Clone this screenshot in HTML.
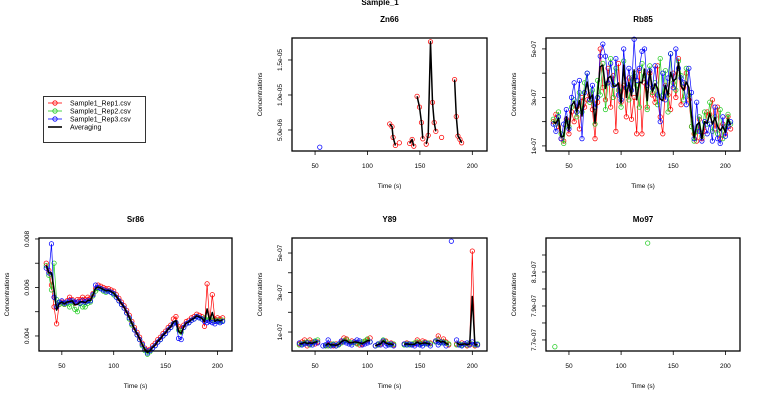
<!DOCTYPE html>
<html><head><meta charset="utf-8"><style>
html,body{margin:0;padding:0;background:#fff;}
svg{display:block;font-family:"Liberation Sans",sans-serif;}
</style></head><body>
<svg id="chart" width="760" height="400" viewBox="0 0 760 400" xmlns="http://www.w3.org/2000/svg">
<text x="380" y="5" font-size="8" font-weight="bold" text-anchor="middle">Sample_1</text>
<g>
<rect x="43.5" y="96.5" width="102" height="46" fill="#fff" stroke="#000" stroke-width="0.8"/>
<g><line x1="48" y1="103" x2="62" y2="103" stroke="#f00" stroke-width="0.8"/><circle cx="55" cy="103" r="2.2" fill="none" stroke="#f00" stroke-width="0.8"/><text x="70" y="105.5" font-size="7">Sample1_Rep1.csv</text></g>
<g><line x1="48" y1="111" x2="62" y2="111" stroke="#2c2" stroke-width="0.8"/><circle cx="55" cy="111" r="2.2" fill="none" stroke="#2c2" stroke-width="0.8"/><text x="70" y="113.5" font-size="7">Sample1_Rep2.csv</text></g>
<g><line x1="48" y1="119" x2="62" y2="119" stroke="#00f" stroke-width="0.8"/><circle cx="55" cy="119" r="2.2" fill="none" stroke="#00f" stroke-width="0.8"/><text x="70" y="121.5" font-size="7">Sample1_Rep3.csv</text></g>
<g><line x1="48" y1="127" x2="62" y2="127" stroke="#000" stroke-width="1.6"/><text x="70" y="129.5" font-size="7">Averaging</text></g>
</g>
</svg>
<script>
// ---- data ----
const xTicks = [50, 100, 150, 200];
const gridTimes = [35,37.5,40,42.5,45,47.5,50,52.5,55,57.5,60,62.5,65,67.5,70,72.5,75,77.5,80,82.5,85,87.5,90,92.5,95,97.5,100,102.5,105,107.5,110,112.5,115,117.5,120,122.5,125,127.5,130,132.5,135,137.5,140,142.5,145,147.5,150,152.5,155,157.5,160,162.5,165,167.5,170,172.5,175,177.5,180,182.5,185,187.5,190,192.5,195,197.5,200,202.5,205];

const znTimes = [54.5,90,121.2,123.4,124.4,126.6,128.5,130.4,135,140.3,142.6,144.2,145.8,147.3,149.6,151.5,152.8,154.4,156.0,157.9,160.1,162.0,163.6,165.2,168,170.7,176,183.1,184.7,186.3,188.2,189.8];
const znRed = [null,null,5.87,5.48,3.94,2.79,null,3.17,null,3.08,3.65,2.69,null,9.81,8.27,6.06,3.75,null,2.98,4.23,17.6,8.94,6.06,4.81,null,3.94,null,12.2,6.92,4.13,3.65,3.17];
const znGreen = [];
const znBlue = [2.55];
const znTickVals = [5,10,15];
const znTickLabels = ['5.0e-06','1.0e-05','1.5e-05'];

const rbRed = [2.0,2.3,1.8,1.3,1.2,2.1,1.5,2.4,2.0,2.6,1.7,3.0,2.6,2.9,3.1,2.5,1.3,2.8,5.0,3.4,2.9,4.2,2.6,3.9,1.6,4.4,2.8,3.5,2.2,3.8,2.1,3.0,1.5,4.1,1.5,3.6,2.6,4.0,3.1,2.8,4.3,2.2,1.5,3.5,3.1,2.5,4.0,3.0,4.6,2.7,3.4,4.0,2.9,1.8,1.5,1.2,2.1,1.3,1.6,2.4,2.3,2.9,1.7,2.6,1.3,1.9,1.5,2.2,1.7];
const rbGreen = [2.1,1.9,2.4,1.5,1.1,2.0,1.8,2.6,2.9,2.2,3.2,2.4,3.6,4.0,2.8,3.3,1.9,3.7,3.1,4.4,2.5,3.6,4.6,3.0,4.2,3.3,2.6,4.5,3.4,2.9,3.8,4.0,3.5,2.6,4.4,3.9,2.5,4.3,3.2,3.6,2.7,4.6,3.1,4.1,2.4,4.8,3.6,3.3,4.5,3.9,2.9,4.2,3.1,1.8,1.2,1.6,2.2,1.4,2.4,1.9,2.8,1.6,2.2,1.5,2.5,1.3,1.8,2.3,1.9];
const rbBlue = [1.9,1.6,2.2,1.3,1.9,2.5,1.7,3.0,3.6,2.4,3.7,1.3,3.2,4.0,2.9,3.5,2.6,3.0,4.7,5.2,4.7,3.6,4.4,3.5,4.6,3.1,2.9,5.0,3.4,4.2,3.3,5.4,3.7,4.2,4.9,5.0,3.5,4.1,3.4,4.3,3.1,2.0,4.0,2.9,3.8,4.8,3.4,5.0,4.2,3.8,3.6,2.7,4.2,3.2,1.3,2.8,1.6,1.2,2.0,1.5,1.9,1.2,2.6,1.3,1.1,2.2,1.4,1.8,2.0];
const rbTickVals = [1,2,3,4,5];
const rbTickLabels = ['1e-07','','3e-07','','5e-07'];

const srRed = [7.0,6.7,6.1,5.2,4.5,5.3,5.4,5.3,5.45,5.6,5.5,5.35,5.5,5.5,5.6,5.5,5.6,5.55,5.75,5.95,6.1,6.05,6.0,5.95,5.95,5.9,5.85,5.7,5.55,5.4,5.25,5.05,4.85,4.6,4.35,4.15,3.95,3.7,3.5,3.4,3.45,3.6,3.7,3.85,3.95,4.1,4.2,4.35,4.45,4.7,4.8,4.4,4.3,4.45,4.6,4.65,4.75,4.8,4.9,4.85,4.8,4.4,6.15,4.6,5.7,4.7,4.75,4.7,4.75];
const srGreen = [6.9,6.5,5.9,7.0,5.5,5.3,5.35,5.3,5.35,5.2,5.4,5.1,5.0,5.35,5.2,5.2,5.35,5.4,5.65,5.85,5.95,5.95,5.85,5.8,5.85,5.8,5.7,5.6,5.45,5.3,5.15,4.95,4.7,4.45,4.25,4.05,3.85,3.6,3.4,3.25,3.35,3.5,3.6,3.75,3.85,4.0,4.1,4.25,4.35,4.5,4.55,4.25,4.15,4.35,4.5,4.55,4.65,4.7,4.8,4.75,4.7,4.75,4.65,4.7,4.65,4.6,4.65,4.6,4.65];
const srBlue = [6.8,6.6,7.8,5.6,5.2,5.4,5.45,5.35,5.4,5.45,5.45,5.4,5.4,5.35,5.45,5.4,5.45,5.45,5.7,6.1,6.0,5.95,5.9,5.85,5.85,5.8,5.75,5.6,5.45,5.3,5.15,4.95,4.75,4.5,4.25,4.05,3.85,3.65,3.45,3.3,3.4,3.5,3.6,3.75,3.85,4.0,4.1,4.25,4.35,4.5,4.55,3.9,3.85,4.35,4.5,4.55,4.65,4.7,4.8,4.75,4.7,4.6,4.55,4.6,4.55,4.5,4.6,4.55,4.6];
const srTickVals = [4,5,6,7,8];
const srTickLabels = ['0.004','','0.006','','0.008'];

const yRed = [0.4,0.5,0.6,0.3,0.6,0.5,0.4,0.5,null,null,0.3,0.35,0.4,0.3,0.4,0.35,0.5,0.7,0.65,0.5,0.55,0.5,0.45,0.35,0.4,0.5,0.6,0.7,null,0.3,0.35,0.4,0.5,0.55,0.4,0.45,0.35,null,null,null,0.4,0.45,0.4,0.35,0.4,0.6,0.45,0.55,0.5,0.4,0.45,null,0.55,0.8,0.5,0.65,0.5,0.35,null,null,0.4,0.35,0.45,0.4,0.3,0.4,5.1,0.3,0.35];
const yGreen = [0.35,0.4,0.45,0.5,0.35,0.45,0.55,0.6,null,null,0.3,0.3,0.35,0.4,0.3,0.35,0.45,0.55,0.6,0.5,0.45,0.5,0.4,0.45,0.5,0.55,0.65,0.5,null,0.3,0.35,0.45,0.6,0.5,0.4,0.35,0.4,null,null,null,0.35,0.4,0.35,0.4,0.45,0.5,0.4,0.45,0.4,0.45,0.4,null,0.5,0.6,0.45,0.5,0.45,0.4,null,null,0.35,0.4,0.35,0.4,0.35,0.45,null,0.35,0.4];
const yBlue = [0.45,0.35,0.4,0.45,0.4,0.35,0.5,0.45,null,0.3,0.35,0.6,0.3,0.35,0.3,0.4,0.55,0.5,0.45,0.4,0.35,0.5,0.6,0.55,0.35,0.4,0.45,0.5,null,0.3,0.4,0.35,0.55,0.3,0.35,0.4,0.3,null,null,null,0.4,0.35,0.4,0.35,0.3,0.4,0.35,0.3,0.45,0.4,0.3,null,0.55,0.35,0.5,0.45,0.3,null,5.6,null,0.6,0.35,0.3,0.4,0.45,0.35,0.5,0.4,0.35];
const yTickVals = [1,2,3,4,5];
const yTickLabels = ['1e-07','','3e-07','','5e-07'];

const moTimes = [36.5,80,125.5];
const moRed = [];
const moGreen = [7.66,null,8.27];
const moBlue = [];
const moTickVals = [7.7,7.8,7.9,8.0,8.1,8.2];
const moTickLabels = ['7.7e-07','','7.9e-07','','8.1e-07',''];

// ---- layout ----
const panels = [
  {name:'zn66', title:'Zn66', box:[292,487,38,151], ylim:[2.0,18.14], t:znTimes, r:znRed, g:znGreen, b:znBlue, tv:znTickVals, tl:znTickLabels, avgMin:1},
  {name:'rb85', title:'Rb85', box:[546,740,38,151], ylim:[0.79,5.45], t:gridTimes, r:rbRed, g:rbGreen, b:rbBlue, tv:rbTickVals, tl:rbTickLabels, avgMin:1},
  {name:'sr86', title:'Sr86', box:[39,232,238,351], ylim:[3.38,8.04], t:gridTimes, r:srRed, g:srGreen, b:srBlue, tv:srTickVals, tl:srTickLabels, avgMin:1},
  {name:'y89', title:'Y89', box:[292,487,238,351], ylim:[0.04,5.76], t:gridTimes, r:yRed, g:yGreen, b:yBlue, tv:yTickVals, tl:yTickLabels, avgMin:2},
  {name:'mo97', title:'Mo97', box:[546,740,238,351], ylim:[7.635,8.3], t:moTimes, r:moRed, g:moGreen, b:moBlue, tv:moTickVals, tl:moTickLabels, avgMin:99}
];
const XLIM = [28, 214];
const NS = 'http://www.w3.org/2000/svg';
const svg = document.getElementById('chart');
function mk(tag, attrs, parent){ const e=document.createElementNS(NS,tag); for(const k in attrs) e.setAttribute(k,attrs[k]); parent.appendChild(e); return e; }

panels.forEach(p=>{
  const [x0,x1,y0,y1] = p.box;
  const sx = v => x0 + (v-XLIM[0])/(XLIM[1]-XLIM[0])*(x1-x0);
  const sy = v => y1 - (v-p.ylim[0])/(p.ylim[1]-p.ylim[0])*(y1-y0);
  const g = mk('g',{},svg);
  
  
  const title = mk('text',{x:(x0+x1)/2, y:y0-16, 'font-size':8, 'font-weight':'bold', 'text-anchor':'middle'},g);
  title.textContent = p.title;
  
  
  const xa = mk('g',{},g);
  
  
  xTicks.forEach(v=>{
    const x = sx(v);
    mk('line',{x1:x,x2:x,y1:y1,y2:y1+4,stroke:'#000','stroke-width':0.8},xa);
    const t = mk('text',{x:x,y:y1+17,'font-size':6.5,'text-anchor':'middle'},xa);
    t.textContent = v;
    
    
  });
  const xl = mk('text',{x:(x0+x1)/2,y:y1+37,'font-size':6.5,'text-anchor':'middle'},g);
  xl.textContent = 'Time (s)';
  
  
  const ya = mk('g',{},g);
  
  
  p.tv.forEach((v,i)=>{
    const y = sy(v);
    mk('line',{x1:x0-4,x2:x0,y1:y,y2:y,stroke:'#000','stroke-width':0.8},ya);
    if(p.tl[i]){
      const t = mk('text',{x:0,y:0,'font-size':6.5,'text-anchor':'middle',transform:`translate(${x0-10},${y}) rotate(-90)`},ya);
      t.textContent = p.tl[i];
      
      
    }
  });
  const yl = mk('text',{x:0,y:0,'font-size':6.5,'text-anchor':'middle',transform:`translate(${x0-30},${(y0+y1)/2}) rotate(-90)`},g);
  yl.textContent = 'Concentrations';
  
  
  const series = [[p.r,'#f00','rep1'],[p.g,'#2c2','rep2'],[p.b,'#00f','rep3']];
  function pathOf(vals){
    let d='', pen=false;
    for(let i=0;i<p.t.length;i++){
      const v = vals[i];
      if(v==null){pen=false;continue;}
      d += (pen?'L':'M') + sx(p.t[i]).toFixed(1)+','+sy(v).toFixed(1);
      pen=true;
    }
    return d;
  }
  series.forEach(([vals,col,nm])=>{
    const sg = mk('g',{},g);
    
    
    const d = pathOf(vals);
    if(d) mk('path',{d:d,fill:'none',stroke:col,'stroke-width':0.7},sg);
    for(let i=0;i<p.t.length;i++){
      const v = vals[i];
      if(v==null) continue;
      const c = mk('circle',{cx:sx(p.t[i]),cy:sy(v),r:2.2,fill:'none',stroke:col,'stroke-width':0.75},sg);
      
      
    }
  });
  const avg = p.t.map((_,i)=>{
    const vs = [p.r[i],p.g[i],p.b[i]].filter(v=>v!=null);
    return vs.length>=p.avgMin ? vs.reduce((a,b)=>a+b,0)/vs.length : null;
  });
  const ad = pathOf(avg);
  if(ad){
    const ap = mk('path',{d:ad,fill:'none',stroke:'#000','stroke-width':1.5,'stroke-linejoin':'round'},g);
    
    
  }
  const box = mk('rect',{x:x0,y:y0,width:x1-x0,height:y1-y0,fill:'none',stroke:'#000','stroke-width':1.3},g);
  
  
});
</script>
</body></html>
